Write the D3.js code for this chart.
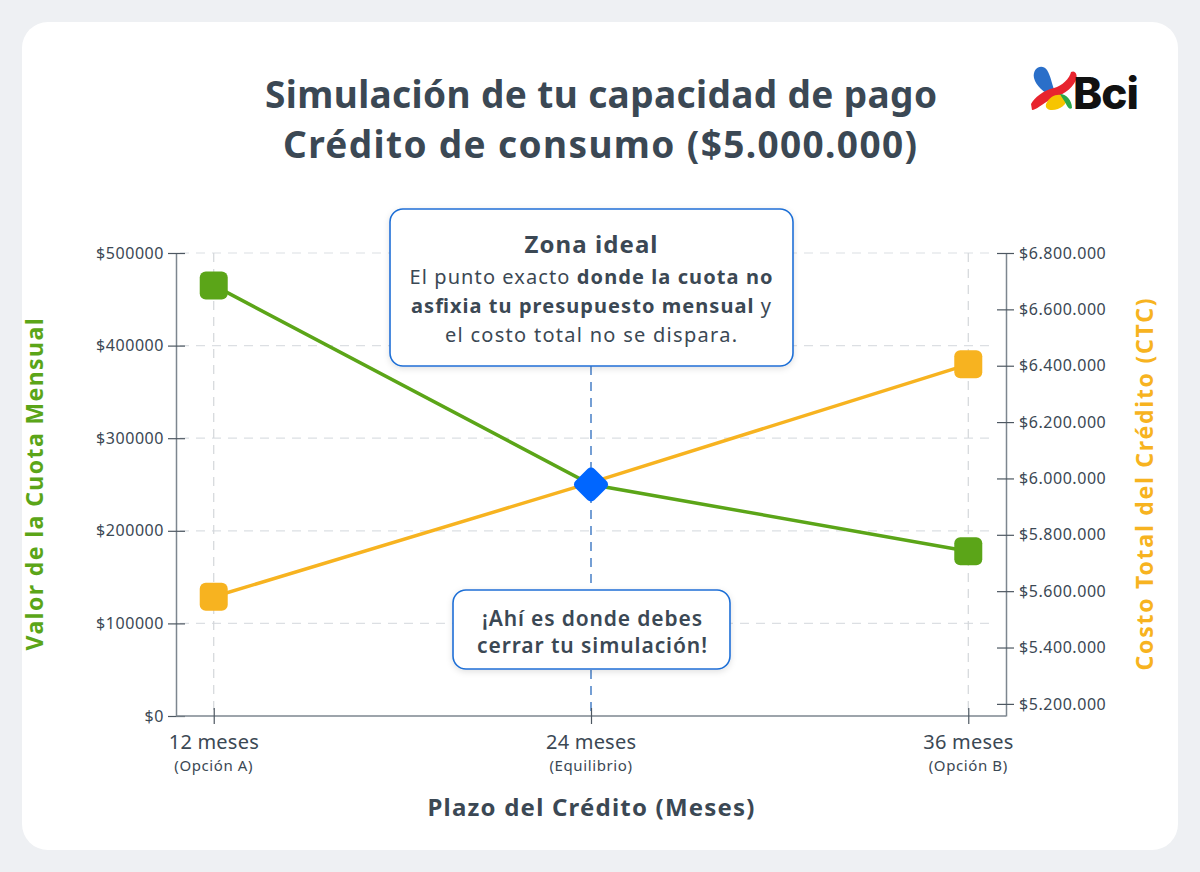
<!DOCTYPE html>
<html><head><meta charset="utf-8">
<script src="https://cdn.jsdelivr.net/npm/d3@7/dist/d3.min.js"></script>
<style>
html,body{margin:0;padding:0;background:#eef0f3;}
svg{display:block;font-family:"Noto Sans",sans-serif;}
</style></head>
<body>
<svg id="chart" width="1200" height="872"></svg>
<script>
const categories = ["12 meses", "24 meses", "36 meses"];
const subLabels = ["(Opción A)", "(Equilibrio)", "(Opción B)"];
const cuotaValues = [465000, 250000, 178000];
const ctcValues = [5580000, 5985000, 6405000];
const leftTicks = [0, 100000, 200000, 300000, 400000, 500000];
const rightTicks = [5200000, 5400000, 5600000, 5800000, 6000000, 6200000, 6400000, 6600000, 6800000];

(function () {
const TXT = "#3b4854", GREEN = "#5ba518", ORANGE = "#f7b320", BLUE = "#0066ff", AX = "#7d868f";
const svg = d3.select("#chart");

// card
svg.append("rect").attr("x", 22).attr("y", 22).attr("width", 1156).attr("height", 828)
  .attr("rx", 26).attr("fill", "#fff");

const defs = svg.append("defs");
const f = defs.append("filter").attr("id", "sh").attr("x", "-10%").attr("y", "-10%").attr("width", "120%").attr("height", "130%");
f.append("feDropShadow").attr("dx", 0).attr("dy", 2).attr("stdDeviation", 3).attr("flood-color", "#000").attr("flood-opacity", 0.12);

function txt(xp, yp, s, size, weight, fill, len) {
  const t = svg.append("text").attr("x", xp).attr("y", yp).attr("text-anchor", "middle")
    .attr("font-size", size).attr("font-weight", weight).attr("fill", fill).text(s);
  if (len) t.attr("textLength", len).attr("lengthAdjust", "spacing");
  return t;
}

// title
txt(601, 108, "Simulación de tu capacidad de pago", 37, 700, TXT, 672);
txt(600, 158, "Crédito de consumo ($5.000.000)", 37, 700, TXT, 634);

// logo
const lg = svg.append("g").attr("transform", "translate(1030,64)");
lg.append("path").attr("d", "M4,14 C2,4 12,-1 17,6 C21,12 22,22 26,30 L22,33 C14,28 6,22 4,14 Z").attr("fill", "#2a6fc9");
lg.append("path").attr("d", "M1,40 C4,34 14,26 24,24 C32,22 40,14 41,8 C45,6 48,10 46,16 C42,26 30,32 20,36 C12,40 6,46 2,46 Z").attr("fill", "#e8242e");
lg.append("path").attr("d", "M16,40 C20,30 32,28 36,34 C38,40 30,46 22,46 C18,46 15,44 16,40 Z").attr("fill", "#f6c500");
lg.append("path").attr("d", "M30,30 C36,30 42,36 42,44 C40,46 38,44 36,40 C34,36 32,34 30,30 Z").attr("fill", "#2aa84a");
lg.append("text").attr("x", 43).attr("y", 45).attr("font-size", 44).attr("font-weight", 800)
  .attr("font-family", "Inter, 'Noto Sans', sans-serif").attr("fill", "#111").attr("letter-spacing", -1).text("Bci");

// scales
const pL = 176, pR = 1006, pT = 253, pB = 716;
const x = d3.scalePoint().domain(categories).range([pL, pR]).padding(0.1);
const yL = d3.scaleLinear().domain([0, 500000]).range([pB, pT]);
const yR = d3.scaleLinear().domain([5157000, 6800000]).range([pB, pT]);

// grid
const grid = svg.append("g");
grid.selectAll("line.h").data(leftTicks.slice(1)).join("line")
  .attr("x1", pL + 4).attr("x2", pR - 14).attr("y1", d => yL(d)).attr("y2", d => yL(d))
  .attr("stroke", "#dcdfe3").attr("stroke-width", 1.2).attr("stroke-dasharray", "9,7");
grid.selectAll("line.v").data([categories[0], categories[2]]).join("line")
  .attr("x1", d => x(d)).attr("x2", d => x(d)).attr("y1", pT).attr("y2", pB)
  .attr("stroke", "#d3d6da").attr("stroke-width", 1.2).attr("stroke-dasharray", "9,7");
grid.append("line").attr("x1", x(categories[1])).attr("x2", x(categories[1]))
  .attr("y1", 366).attr("y2", pB).attr("stroke", "#1a5fb8").attr("stroke-width", 1.2).attr("stroke-dasharray", "9,7");

// axes
function styleAxis(g) {
  g.select(".domain").attr("stroke", AX).attr("stroke-width", 1.5);
  g.selectAll(".tick line").attr("stroke", "#4d5761").attr("stroke-width", 1.2);
  g.selectAll(".tick text").attr("fill", TXT).attr("font-size", 16).attr("letter-spacing", 0.55)
    .attr("font-family", "'Noto Sans', sans-serif");
}
const gL = svg.append("g").attr("transform", `translate(${pL},0)`)
  .call(d3.axisLeft(yL).tickValues(leftTicks).tickSize(8).tickSizeOuter(0).tickPadding(4).tickFormat(d => "$" + d));
styleAxis(gL);
gL.selectAll(".tick line").attr("x2", -8).attr("x1", 9);

const fmtR = d => "$" + d3.format(",")(d).replace(/,/g, ".");
const gR = svg.append("g").attr("transform", `translate(${pR},0)`)
  .call(d3.axisRight(yR).tickValues(rightTicks).tickSize(8).tickSizeOuter(0).tickPadding(5).tickFormat(fmtR));
styleAxis(gR);
gR.selectAll(".tick line").attr("x1", -9).attr("x2", 8);

const gX = svg.append("g").attr("transform", `translate(0,${pB})`)
  .call(d3.axisBottom(x).tickSize(8).tickSizeOuter(0).tickFormat(""));
styleAxis(gX);
gX.selectAll(".tick line").attr("y1", -8).attr("y2", 8);
gX.select(".domain").attr("d", `M${pL},0H${pR}`);

// x labels
svg.selectAll("text.xl").data(categories).join("text")
  .attr("x", d => x(d)).attr("y", 749).attr("text-anchor", "middle").attr("font-size", 20).attr("fill", TXT)
  .attr("textLength", 90).attr("lengthAdjust", "spacing").text(d => d);
svg.selectAll("text.xs").data(subLabels).join("text")
  .attr("x", (d, i) => x(categories[i])).attr("y", 771).attr("text-anchor", "middle").attr("font-size", 15).attr("fill", TXT)
  .attr("letter-spacing", 0.6).text(d => d);

// axis titles
txt(591, 816, "Plazo del Crédito (Meses)", 24, 700, TXT, 327);
svg.append("text").attr("transform", `translate(43,${(pT + pB) / 2}) rotate(-90)`).attr("text-anchor", "middle")
  .attr("font-size", 23).attr("font-weight", 700).attr("fill", GREEN)
  .attr("textLength", 332).attr("lengthAdjust", "spacing").text("Valor de la Cuota Mensual");
svg.append("text").attr("transform", `translate(1153,${(pT + pB) / 2}) rotate(-90)`).attr("text-anchor", "middle")
  .attr("font-size", 23).attr("font-weight", 700).attr("fill", ORANGE)
  .attr("textLength", 372).attr("lengthAdjust", "spacing").text("Costo Total del Crédito (CTC)");

// lines
const lineL = d3.line().x((d, i) => x(categories[i])).y(d => yL(d));
const lineR = d3.line().x((d, i) => x(categories[i])).y(d => yR(d));
svg.append("path").datum(cuotaValues).attr("d", lineL).attr("fill", "none").attr("stroke", GREEN).attr("stroke-width", 3.5);
svg.append("path").datum(ctcValues).attr("d", lineR).attr("fill", "none").attr("stroke", ORANGE).attr("stroke-width", 3.5);

// markers
const S = 28;
const gi = cuotaValues.map((d, i) => i).filter(i => i !== 1);
svg.selectAll("rect.mg").data(gi).join("rect")
  .attr("x", i => x(categories[i]) - S / 2).attr("y", i => yL(cuotaValues[i]) - S / 2)
  .attr("width", S).attr("height", S).attr("rx", 6).attr("fill", GREEN);
svg.selectAll("rect.mo").data(gi).join("rect")
  .attr("x", i => x(categories[i]) - S / 2).attr("y", i => yR(ctcValues[i]) - S / 2)
  .attr("width", S).attr("height", S).attr("rx", 6).attr("fill", ORANGE);
// diamond at equilibrium
const D = 27;
svg.append("rect").attr("x", -D / 2).attr("y", -D / 2).attr("width", D).attr("height", D).attr("rx", 5).attr("fill", BLUE)
  .attr("transform", `translate(${x(categories[1])},${yL(cuotaValues[1])}) rotate(45)`);

// annotation boxes
function box(x0, y0, w, h) {
  svg.append("rect").attr("x", x0).attr("y", y0).attr("width", w).attr("height", h).attr("rx", 13)
    .attr("fill", "#fff").attr("stroke", "#1f6fd6").attr("stroke-width", 1.6).attr("filter", "url(#sh)");
}
box(390, 209, 403, 157);
txt(591, 253, "Zona ideal", 24, 700, TXT, 133);
const lines1 = [
  [[["El punto exacto ", 400], ["donde la cuota no", 700]], 363, 284],
  [[["asfixia tu presupuesto mensual", 700], [" y", 400]], 360, 313],
  [[["el costo total no se dispara.", 400]], 292, 342]
];
lines1.forEach(([ln, len, yy]) => {
  const t = svg.append("text").attr("x", 591).attr("y", yy).attr("text-anchor", "middle")
    .attr("font-size", 20).attr("fill", TXT).attr("textLength", len).attr("lengthAdjust", "spacing");
  ln.forEach(([s, w]) => t.append("tspan").attr("font-weight", w).text(s));
});
box(453, 590, 277, 79);
txt(592, 626, "¡Ahí es donde debes", 21, 600, TXT, 220);
txt(592, 653, "cerrar tu simulación!", 21, 600, TXT, 230);
})();
</script>
</body></html>
